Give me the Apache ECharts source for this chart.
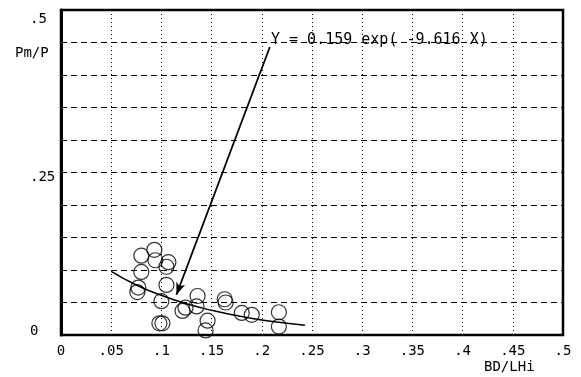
<!DOCTYPE html>
<html>
<head>
<meta charset="utf-8">
<script src="https://cdn.jsdelivr.net/npm/echarts@6/dist/echarts.min.js"></script>
<style>
  html, body { margin: 0; padding: 0; background: #fff; }
  #chart { width: 581px; height: 377px; }
</style>
</head>
<body>
<div id="chart"></div>
<script>
// observed points (BD/LHi, Pm/P)
var obsX = [0.080, 0.093, 0.094, 0.107, 0.105, 0.080, 0.105, 0.077, 0.076, 0.100,
            0.098, 0.101, 0.121, 0.124, 0.136, 0.135, 0.146, 0.144, 0.163, 0.164,
            0.180, 0.190, 0.217, 0.217];
var obsY = [0.122, 0.131, 0.115, 0.112, 0.105, 0.097, 0.077, 0.073, 0.066, 0.052,
            0.018, 0.018, 0.037, 0.042, 0.060, 0.044, 0.022, 0.007, 0.055, 0.050,
            0.034, 0.031, 0.035, 0.013];

// fitted curve Y = 0.159 exp(-9.616 X)
var fitX = [0.050, 0.075, 0.100, 0.125, 0.150, 0.175, 0.200, 0.225, 0.243];
var fitY = [0.098, 0.077, 0.061, 0.048, 0.038, 0.030, 0.023, 0.018, 0.015];

// arrow from the equation down to the curve
var arrowFrom = [0.208, 0.443];
var arrowTo = [0.115, 0.062];

var xTickLabels = ['0', '.05', '.1', '.15', '.2', '.25', '.3', '.35', '.4', '.45', '.5'];
var yTickLabels = {'0': '{bot|0}', '5': '{mid|.25}', '10': '{top|.5}'};

var FONT = 'DejaVu Sans Mono';

function pairs(xs, ys) {
    var out = [];
    for (var i = 0; i < xs.length; i++) {
        out.push([xs[i], ys[i]]);
    }
    return out;
}

var myChart = echarts.init(document.getElementById('chart'));
var option = {
    animation: false,
    backgroundColor: '#fff',
    grid: {
        left: 61, right: 18, top: 10, bottom: 42,
        show: true,
        borderColor: '#000',
        borderWidth: 2.5
    },
    xAxis: {
        type: 'value',
        min: 0, max: 0.5, interval: 0.05,
        axisLine: {show: true, lineStyle: {color: '#000', width: 2}},
        axisTick: {show: false},
        axisLabel: {
            margin: 9,
            color: '#000',
            fontFamily: FONT,
            fontSize: 14,
            formatter: function(v){
                return xTickLabels[Math.round(v / 0.05)];
            }
        },
        splitLine: {show: true, lineStyle: {color: '#000', width: 1, type: [1, 3]}}
    },
    yAxis: {
        type: 'value',
        min: 0, max: 0.5, interval: 0.05,
        axisLine: {show: true, lineStyle: {color: '#000', width: 3}},
        axisTick: {show: false},
        axisLabel: {
            margin: 31,
            align: 'left',
            color: '#000',
            fontFamily: FONT,
            fontSize: 14,
            formatter: function(v){
                return yTickLabels[String(Math.round(v / 0.05))] || '';
            },
            rich: {
                top: {fontFamily: FONT, fontSize: 14, color: '#000', padding: [18, 0, 0, 0]},
                mid: {fontFamily: FONT, fontSize: 14, color: '#000', padding: [10, 0, 0, 0]},
                bot: {fontFamily: FONT, fontSize: 14, color: '#000', padding: [0, 0, 7, 0]}
            }
        },
        splitLine: {show: true, lineStyle: {color: '#000', width: 1, type: [6, 4]}}
    },
    series: [
        {
            name: 'observed',
            type: 'scatter',
            data: pairs(obsX, obsY),
            symbol: 'circle',
            symbolSize: 15,
            itemStyle: {color: 'rgba(0,0,0,0)', borderColor: '#000', borderWidth: 1.2}
        },
        {
            name: 'fit',
            type: 'line',
            data: pairs(fitX, fitY),
            smooth: true,
            showSymbol: false,
            lineStyle: {color: '#000', width: 1.5}
        },
        {
            name: 'arrow',
            type: 'line',
            data: [],
            markLine: {
                silent: true,
                symbol: ['none', 'arrow'],
                symbolSize: [7, 12],
                label: {show: false},
                lineStyle: {color: '#000', width: 1.8, type: 'solid'},
                data: [[{coord: arrowFrom}, {coord: arrowTo}]]
            }
        }
    ],
    graphic: [
        {
            type: 'text', left: 271, top: 33,
            style: {text: 'Y = 0.159 exp( -9.616 X)', fill: '#000', font: '15px "DejaVu Sans Mono"'}
        },
        {
            type: 'text', left: 15, top: 46,
            style: {text: 'Pm/P', fill: '#000', font: '14px "DejaVu Sans Mono"'}
        },
        {
            type: 'text', left: 484, top: 360,
            style: {text: 'BD/LHi', fill: '#000', font: '14px "DejaVu Sans Mono"'}
        }
    ]
};
myChart.setOption(option);
</script>
</body>
</html>
